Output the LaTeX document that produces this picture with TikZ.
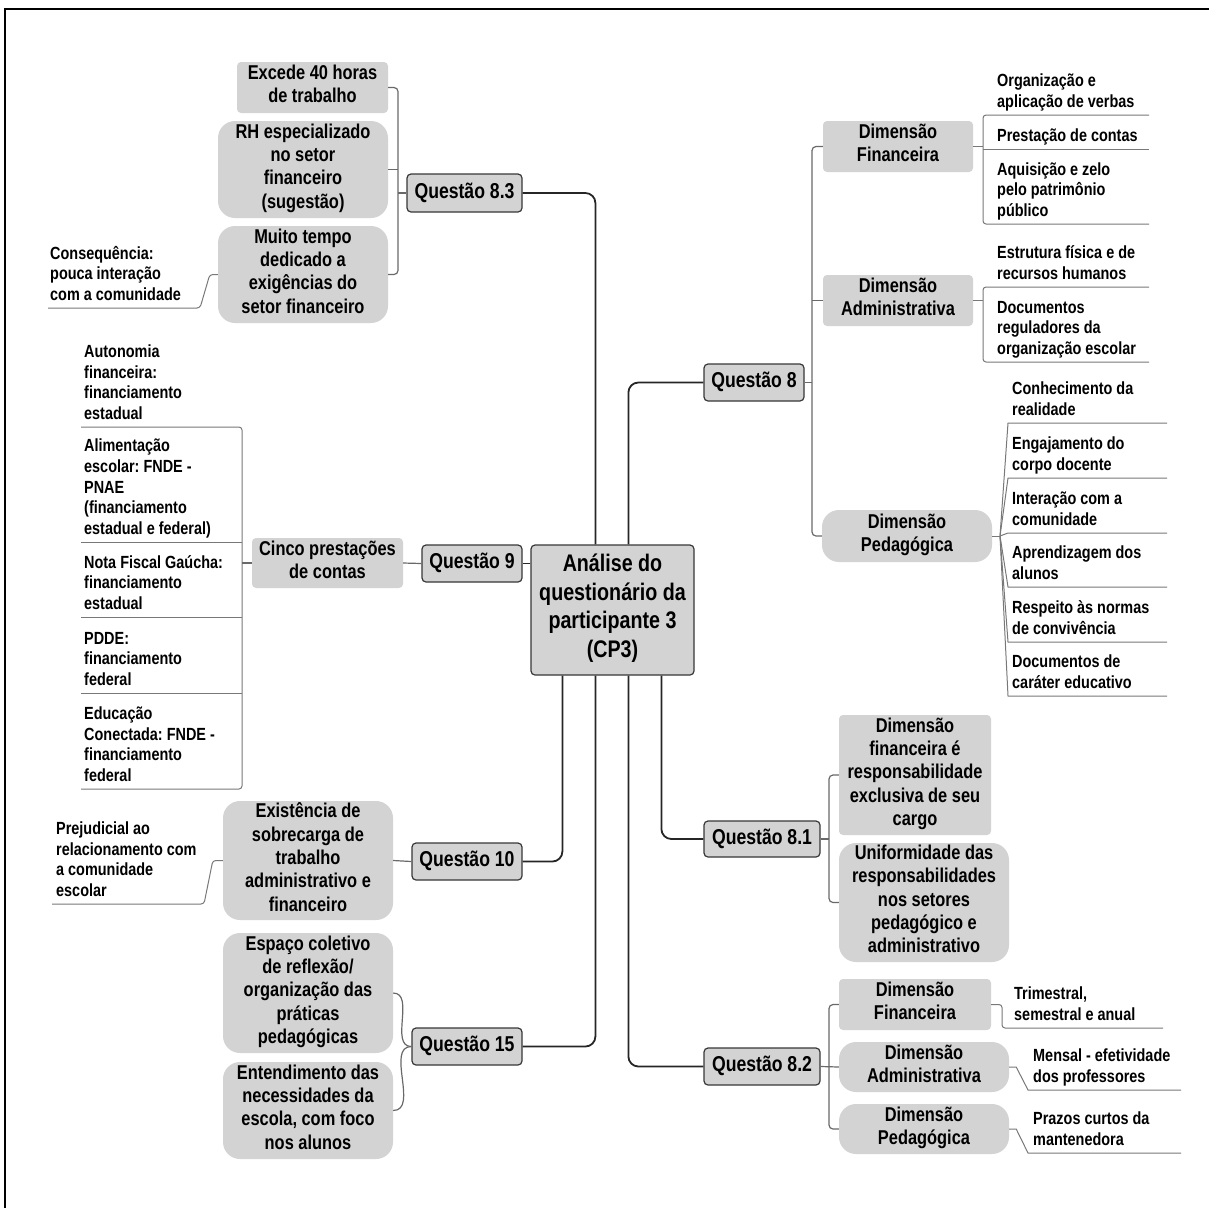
\documentclass[tikz,border=0pt]{standalone}
\usepackage{fontspec}
\setmainfont{Liberation Sans}[FakeStretch=0.82]
\usetikzlibrary{calc}
\frenchspacing

\definecolor{boxgray}{RGB}{211,211,211}
\definecolor{edgedark}{RGB}{55,55,55}
\definecolor{linkgray}{RGB}{105,105,105}
\definecolor{leafgray}{RGB}{120,120,120}

% font sizes of the map levels
\newcommand{\fsRoot}{\bfseries\fontsize{24}{28.5}\selectfont}
\newcommand{\fsQ}{\bfseries\fontsize{21.5}{25}\selectfont}
\newcommand{\fsBox}{\bfseries\fontsize{20}{23.3}\selectfont}
\newcommand{\fsLeaf}{\bfseries\fontsize{17.6}{20.7}\selectfont}

\begin{document}
\begin{tikzpicture}[x=1pt,y=-1pt,
  qbox/.style={draw=edgedark, fill=boxgray, line width=1.2pt, rounded corners=4pt,
    inner sep=0pt, align=center, font=\fsQ,
    execute at begin node=\strut, execute at end node=\strut},
  rootbox/.style={qbox, font=\fsRoot},
  sqbox/.style={fill=boxgray, rounded corners=4pt, inner sep=0pt, align=center,
    font=\fsBox, execute at begin node=\strut, execute at end node=\strut},
  rdbox/.style={sqbox, rounded corners=17pt},
  leaf/.style={anchor=south west, align=left, inner ysep=1pt, font=\fsLeaf,
    execute at begin node=\strut, execute at end node=\strut},
  mainline/.style={draw=black!85, line width=1.8pt, rounded corners=10pt},
  subline/.style={draw=linkgray, line width=1.2pt, rounded corners=4pt},
  leafline/.style={draw=leafgray, line width=1pt, rounded corners=3pt}]

\useasboundingbox (0,0) rectangle (1209,1208);

% frame
\draw[line width=2pt, black] (4.5,1208) -- (4.5,9) -- (1209,9);

% ---------- root ----------
\node[rootbox, minimum width=163pt, minimum height=130pt] (cen) at (612.5,610)
  {Análise do\\questionário da\\participante 3\\(CP3)};

% ---------- questions ----------
\node[qbox, minimum width=115pt, minimum height=38pt] (q83) at (464.5,193) {Questão 8.3};
\node[qbox, minimum width=100pt, minimum height=37pt] (q9)  at (472,563.5) {Questão 9};
\node[qbox, minimum width=110pt, minimum height=37pt] (q10) at (467,861.5) {Questão 10};
\node[qbox, minimum width=110pt, minimum height=37pt] (q15) at (467,1046.5) {Questão 15};
\node[qbox, minimum width=100pt, minimum height=37pt] (q8)  at (754,382.5) {Questão 8};
\node[qbox, minimum width=116pt, minimum height=36pt] (q81) at (762,839) {Questão 8.1};
\node[qbox, minimum width=116pt, minimum height=37pt] (q82) at (762,1066.5) {Questão 8.2};

% ---------- root connectors ----------
\draw[mainline] ([xshift=65pt]cen.north west) |- (q83.east);
\draw[mainline] ([xshift=98pt]cen.north west) |- (q8.west);
\draw[mainline] (cen.west |- q9.east) -- (q9.east);
\draw[mainline] ([xshift=32pt]cen.south west) |- (q10.east);
\draw[mainline] ([xshift=65pt]cen.south west) |- (q15.east);
\draw[mainline] ([xshift=98pt]cen.south west) |- (q82.west);
\draw[mainline] ([xshift=131pt]cen.south west) |- (q81.west);

% ---------- Questão 8.3 ----------
\node[sqbox, minimum width=151pt, minimum height=51pt] (exc) at (312.5,87.5) {Excede 40 horas\\de trabalho};
\node[rdbox, minimum width=170pt, minimum height=97pt] (rh) at (303,169.5) {RH especializado\\no setor\\financeiro\\(sugestão)};
\node[rdbox, minimum width=170pt, minimum height=97pt] (muito) at (303,274.5) {Muito tempo\\dedicado a\\exigências do\\setor financeiro};
\coordinate (sp83) at (398,193);
\draw[subline] (exc.east) -- (exc.east -| sp83) -- (muito.east -| sp83) -- (muito.east);
\draw[subline] (rh.east) -- (rh.east -| sp83);
\draw[subline] (q83.west) -- (sp83);
\node[leaf, inner xsep=2pt] (cons) at (48,308) {Consequência:\\pouca interação\\com a comunidade};
\draw[leafline] (cons.south west) -- ([xshift=152pt]cons.south west) -- ([xshift=-8pt]muito.west) -- (muito.west);

% ---------- Questão 9 ----------
\node[sqbox, minimum width=151pt, minimum height=50pt] (cinco) at (327.5,563) {Cinco prestações\\de contas};
\draw[subline] (q9.west) -- (cinco.east);
\coordinate (sp9) at (242,563);
\node[leaf, inner xsep=3pt] (l91) at (81,427) {Autonomia\\financeira:\\financiamento\\estadual};
\node[leaf, inner xsep=3pt] (l92) at (81,542) {Alimentação\\escolar: FNDE -\\PNAE\\(financiamento\\estadual e federal)};
\node[leaf, inner xsep=3pt] (l93) at (81,617) {Nota Fiscal Gaúcha:\\financiamento\\estadual};
\node[leaf, inner xsep=3pt] (l94) at (81,693) {PDDE:\\financiamento\\federal};
\node[leaf, inner xsep=3pt] (l95) at (81,789) {Educação\\Conectada: FNDE -\\financiamento\\federal};
\draw[leafline] (l91.south west) -- (l91.south west -| sp9) -- (l95.south west -| sp9) -- (l95.south west);
\foreach \l in {l92,l93,l94} \draw[leafline] (\l.south west) -- (\l.south west -| sp9);
\draw[subline] (cinco.west) -- (sp9);

% ---------- Questão 10 ----------
\node[rdbox, minimum width=170pt, minimum height=119pt] (exist) at (308,860.5) {Existência de\\sobrecarga de\\trabalho\\administrativo e\\financeiro};
\draw[subline] (exist.east) -- (q10.west);
\node[leaf, inner xsep=4pt] (prej) at (52,904) {Prejudicial ao\\relacionamento com\\a comunidade\\escolar};
\draw[leafline] (prej.south west) -- ([xshift=152pt]prej.south west) -- ([xshift=-10pt]exist.west) -- (exist.west);

% ---------- Questão 15 ----------
\node[rdbox, minimum width=170pt, minimum height=120pt] (esp) at (308,993) {Espaço coletivo\\de reflexão/\\organização das\\práticas\\pedagógicas};
\node[rdbox, minimum width=170pt, minimum height=97pt] (ent) at (308,1110.5) {Entendimento das\\necessidades da\\escola, com foco\\nos alunos};
\draw[subline] (esp.east) to[out=0,in=180] (q15.west);
\draw[subline] (ent.east) to[out=0,in=180] (q15.west);

% ---------- Questão 8 ----------
\node[sqbox, minimum width=150pt, minimum height=51pt] (dfin) at (898,146.5) {Dimensão\\Financeira};
\node[sqbox, minimum width=150pt, minimum height=51pt] (dadm) at (898,300.5) {Dimensão\\Administrativa};
\node[rdbox, minimum width=170pt, minimum height=52pt] (dped) at (907,536) {Dimensão\\Pedagógica};
\coordinate (sp8) at (812,382.5);
\draw[subline] (q8.east) -- (sp8);
\draw[subline] (dfin.west) -- (dfin.west -| sp8) -- (dped.west -| sp8) -- (dped.west);
\draw[subline] (dadm.west) -- (dadm.west -| sp8);

% financial dimension items
\node[leaf, inner xsep=14pt] (f1) at (983,115) {Organização e\\aplicação de verbas};
\node[leaf, inner xsep=14pt] (f2) at (983,149) {Prestação de contas};
\node[leaf, inner xsep=14pt] (f3) at (983,224) {Aquisição e zelo\\pelo patrimônio\\público};
\draw[leafline] ([xshift=166pt]f1.south west) -- (f1.south west) -- (f3.south west) -- ([xshift=166pt]f3.south west);
\draw[leafline] (f2.south west) -- ([xshift=166pt]f2.south west);
\draw[leafline] (dfin.east) -- (dfin.east -| f1.south west);

% administrative dimension items
\node[leaf, inner xsep=14pt] (a1) at (983,287) {Estrutura física e de\\recursos humanos};
\node[leaf, inner xsep=14pt] (a2) at (983,362) {Documentos\\reguladores da\\organização escolar};
\draw[leafline] ([xshift=166pt]a1.south west) -- (a1.south west) -- (a2.south west) -- ([xshift=166pt]a2.south west);
\draw[leafline] (dadm.east) -- (dadm.east -| a1.south west);

% pedagogical dimension items
\coordinate (hub) at (1000,536);
\draw[leafline] (dped.east) -- (hub);
\node[leaf, inner xsep=4pt] (p1) at (1008,423) {Conhecimento da\\realidade};
\node[leaf, inner xsep=4pt] (p2) at (1008,478) {Engajamento do\\corpo docente};
\node[leaf, inner xsep=4pt] (p3) at (1008,533) {Interação com a\\comunidade};
\node[leaf, inner xsep=4pt] (p4) at (1008,587) {Aprendizagem dos\\alunos};
\node[leaf, inner xsep=4pt] (p5) at (1008,642) {Respeito às normas\\de convivência};
\node[leaf, inner xsep=4pt] (p6) at (1008,696) {Documentos de\\caráter educativo};
\foreach \p in {p1,p2,p3,p4,p5,p6}
  \draw[leafline, rounded corners=0pt] (hub) -- (\p.south west) -- ([xshift=159pt]\p.south west);

% ---------- Questão 8.1 ----------
\node[sqbox, minimum width=152pt, minimum height=120pt] (b1) at (915,775) {Dimensão\\financeira é\\responsabilidade\\exclusiva de seu\\cargo};
\node[rdbox, minimum width=170pt, minimum height=119pt] (b2) at (924,902.5) {Uniformidade das\\responsabilidades\\nos setores\\pedagógico e\\administrativo};
\coordinate (sp81) at (829,839);
\draw[subline] (q81.east) -- (sp81);
\draw[subline] (b1.west) -- (b1.west -| sp81) -- (b2.west -| sp81) -- (b2.west);

% ---------- Questão 8.2 ----------
\node[sqbox, minimum width=152pt, minimum height=51pt] (df2) at (915,1004.5) {Dimensão\\Financeira};
\node[rdbox, minimum width=170pt, minimum height=50pt] (da2) at (924,1067) {Dimensão\\Administrativa};
\node[rdbox, minimum width=170pt, minimum height=50pt] (dp2) at (924,1129) {Dimensão\\Pedagógica};
\coordinate (sp82) at (829,1067);
\draw[subline] (q82.east) -- (da2.west);
\draw[subline] (df2.west) -- (df2.west -| sp82) -- (dp2.west -| sp82) -- (dp2.west);

\node[leaf, inner xsep=12pt] (t) at (1002,1028) {Trimestral,\\semestral e anual};
\node[leaf, inner xsep=5pt] (m) at (1028,1090) {Mensal - efetividade\\dos professores};
\node[leaf, inner xsep=5pt] (z) at (1028,1153) {Prazos curtos da\\mantenedora};
\draw[leafline] (df2.east) -| (t.south west) -- ([xshift=161pt]t.south west);
\draw[leafline, rounded corners=0pt] (da2.east) -- ([xshift=7pt]da2.east) -- (m.south west) -- ([xshift=153pt]m.south west);
\draw[leafline, rounded corners=0pt] (dp2.east) -- ([xshift=7pt]dp2.east) -- (z.south west) -- ([xshift=153pt]z.south west);

\end{tikzpicture}
\end{document}
